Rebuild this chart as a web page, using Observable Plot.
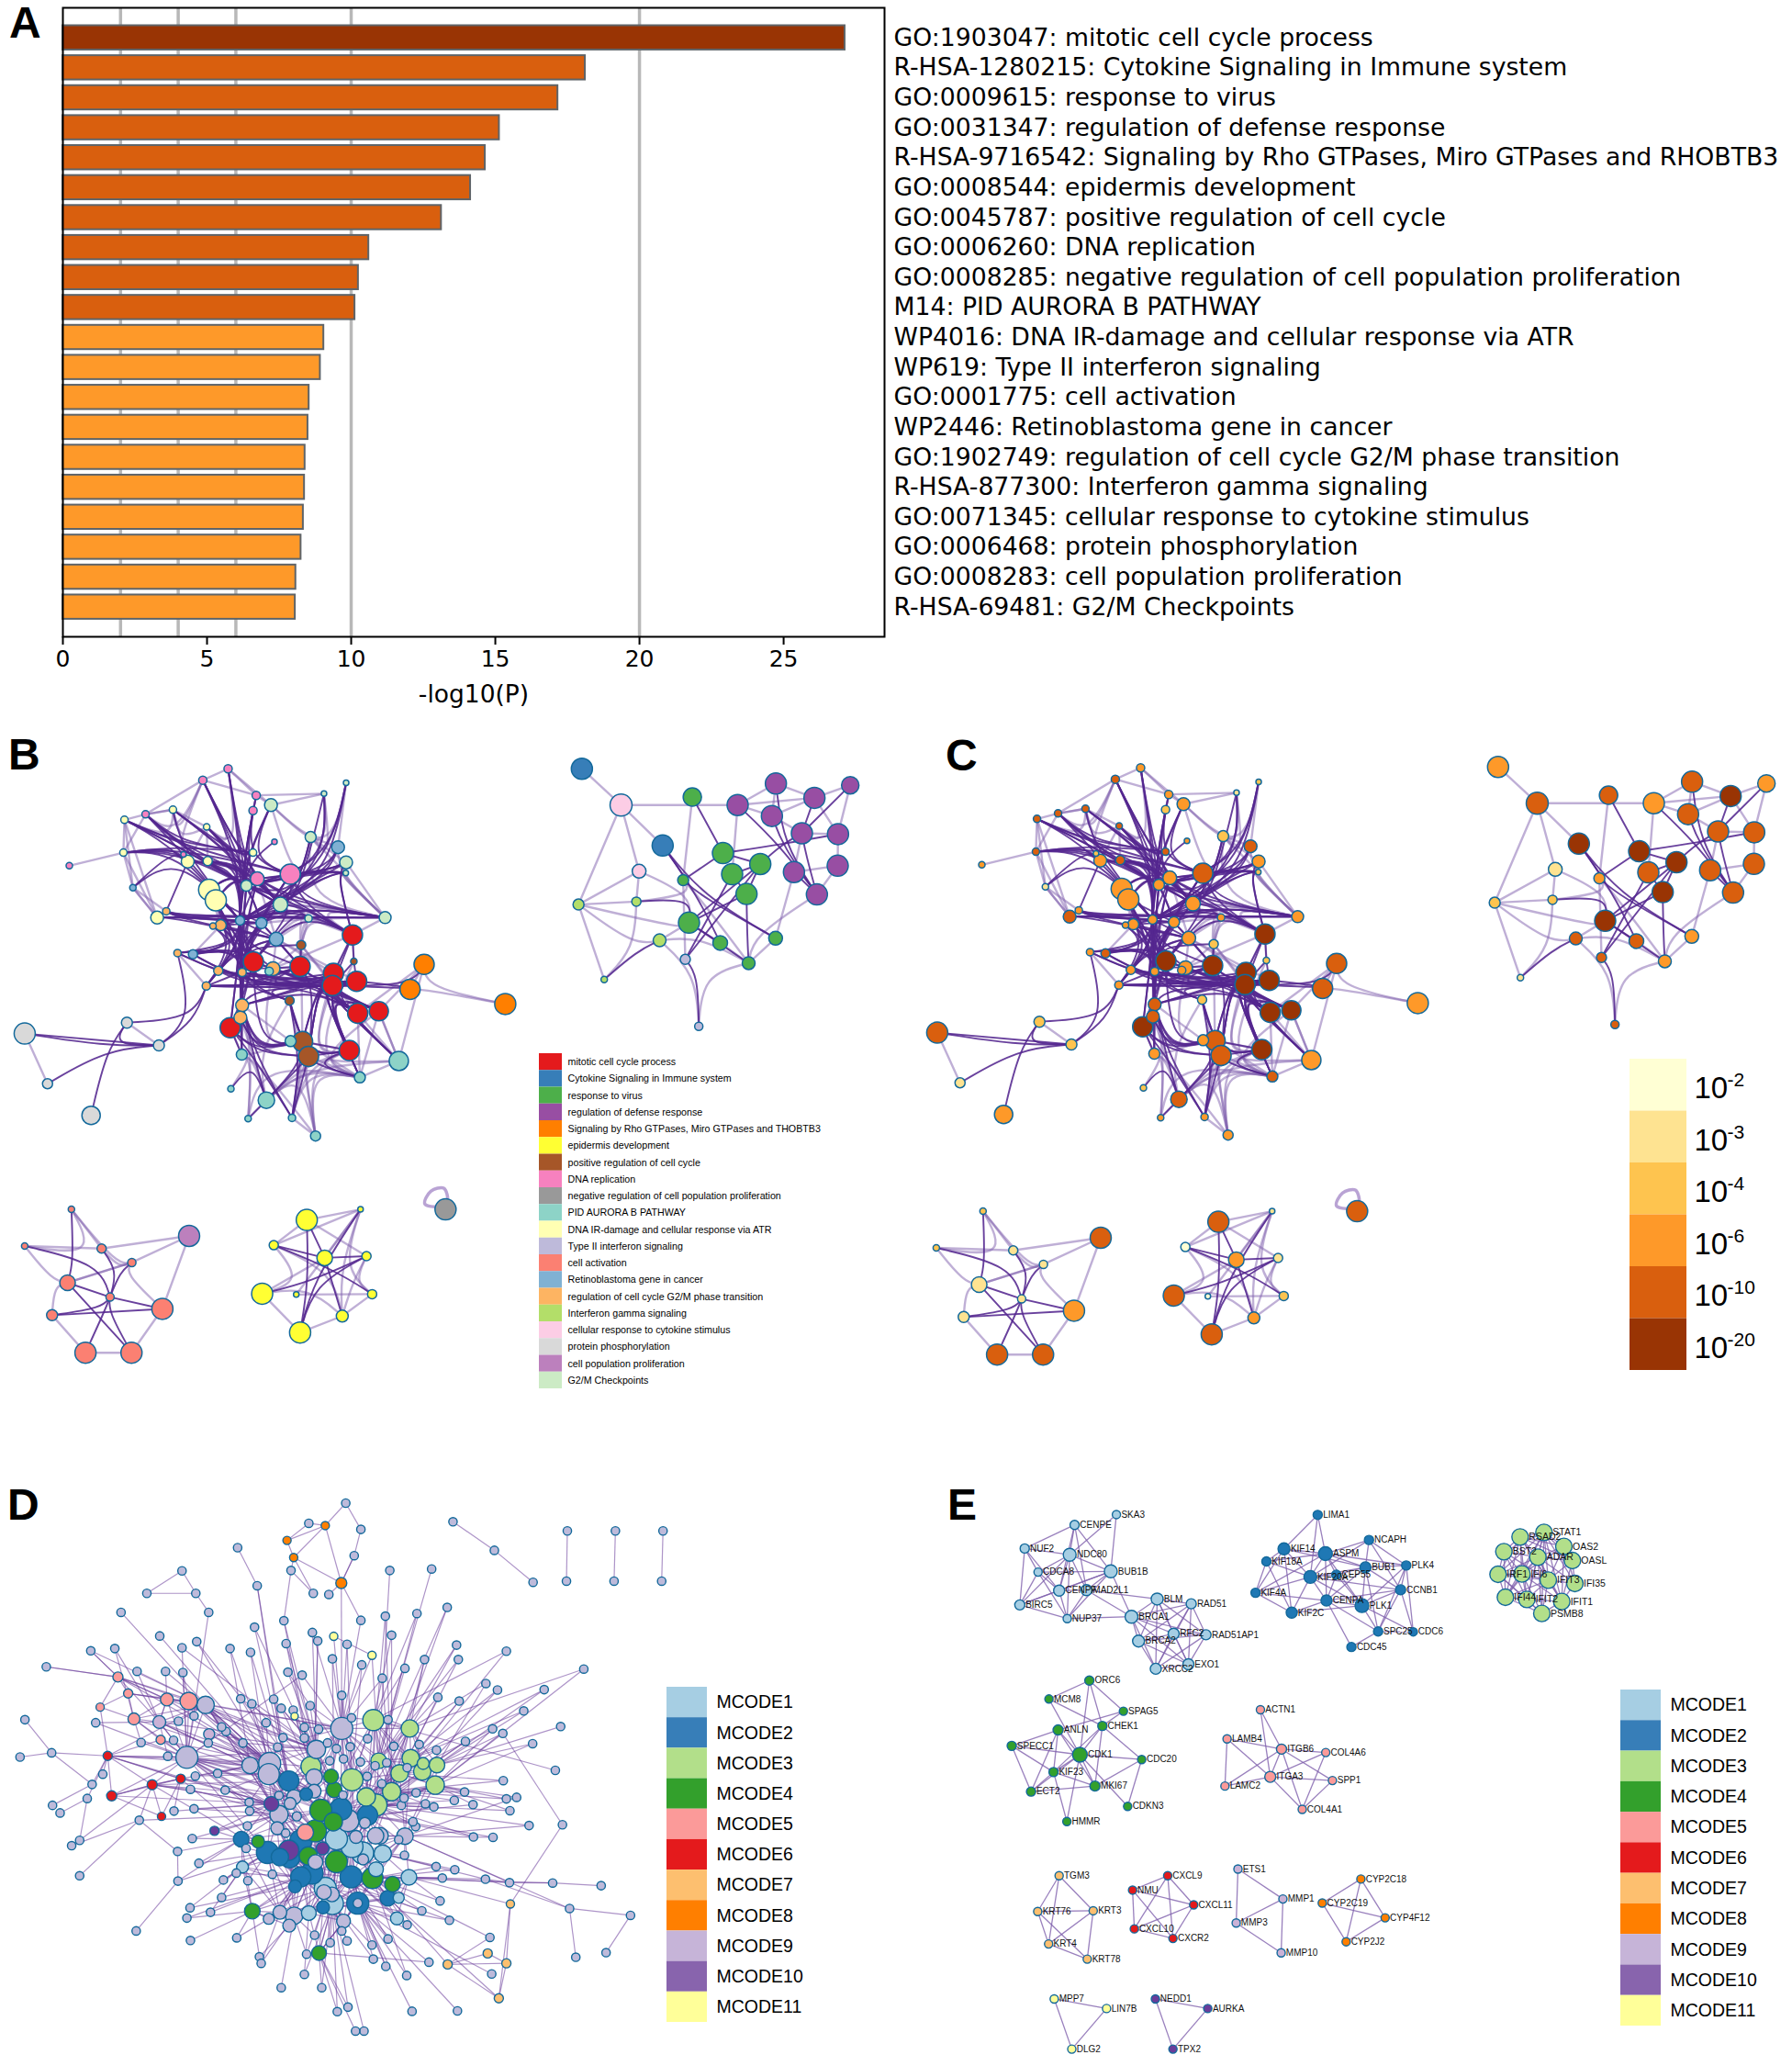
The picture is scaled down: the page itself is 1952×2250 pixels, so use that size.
<!DOCTYPE html>
<html><head><meta charset="utf-8">
<script src="https://cdn.jsdelivr.net/npm/d3@7"></script>
<script src="https://cdn.jsdelivr.net/npm/@observablehq/plot@0.6"></script>
<style>
html,body{margin:0;padding:0;background:#fff}
#page{position:relative;width:1952px;height:2250px;overflow:hidden;background:#fff}
.letter{position:absolute;font:bold 48px "Liberation Sans",sans-serif;line-height:1;color:#000}
</style></head><body><div id="page"></div>
<script>
// ---------- Panel A ----------
const terms = ["GO:1903047: mitotic cell cycle process","R-HSA-1280215: Cytokine Signaling in Immune system","GO:0009615: response to virus","GO:0031347: regulation of defense response","R-HSA-9716542: Signaling by Rho GTPases, Miro GTPases and RHOBTB3","GO:0008544: epidermis development","GO:0045787: positive regulation of cell cycle","GO:0006260: DNA replication","GO:0008285: negative regulation of cell population proliferation","M14: PID AURORA B PATHWAY","WP4016: DNA IR-damage and cellular response via ATR","WP619: Type II interferon signaling","GO:0001775: cell activation","WP2446: Retinoblastoma gene in cancer","GO:1902749: regulation of cell cycle G2/M phase transition","R-HSA-877300: Interferon gamma signaling","GO:0071345: cellular response to cytokine stimulus","GO:0006468: protein phosphorylation","GO:0008283: cell population proliferation","R-HSA-69481: G2/M Checkpoints"];
const logP = [27.13,18.12,17.17,15.14,14.65,14.14,13.13,10.61,10.25,10.13,9.05,8.93,8.54,8.50,8.40,8.38,8.34,8.26,8.08,8.06];
const gridValues = [2,4,6,10,20];
const pLabels = ["-2","-3","-4","-6","-10","-20"];
const pColors = ["#ffffd4","#fee391","#fec44f","#fe9929","#d95f0e","#993404"];

// ---------- Panels B / C: enrichment network ----------
const termShort = ["mitotic cell cycle process","Cytokine Signaling in Immune system","response to virus","regulation of defense response","Signaling by Rho GTPases, Miro GTPases and THOBTB3","epidermis development","positive regulation of cell cycle","DNA replication","negative regulation of cell population proliferation","PID AURORA B PATHWAY","DNA IR-damage and cellular response via ATR","Type II interferon signaling","cell activation","Retinoblastoma gene in cancer","regulation of cell cycle G2/M phase transition","Interferon gamma signaling","cellular response to cytokine stimulus","protein phosphorylation","cell population proliferation","G2/M Checkpoints"];
const termColors = ["#e41a1c","#377eb8","#4daf4a","#984ea3","#ff7f00","#ffff33","#a65628","#f781bf","#999999","#8dd3c7","#ffffb3","#bebada","#fb8072","#80b1d3","#fdb462","#b3de69","#fccde5","#d9d9d9","#bc80bd","#ccebc5"];
// x, y, size, term, p level
const mainNodes = [[648,80,4.5,7,3],[576,107,4.5,7,4],[728,143,4.5,7,3],[719,179,4.5,7,2],[770,166,7,19,3],[921,139,3,19,1],[984,113,3,19,2],[491,177,4,10,4],[413,188,4,7,4],[353,201,4,10,4],[587,218,3.5,10,4],[883,242,6,19,2],[961,266,7,13,4],[780,253,3,7,3],[719,279,4,10,4],[350,279,4,10,4],[521,283,3,7,2],[984,302,7,19,3],[533,300,7,10,3],[590,299,5,10,4],[196,310,3.5,7,3],[825,330,11,7,4],[731,341,7.5,7,3],[700,357,6,19,3],[983,327,3,19,2],[377,362,3.5,13,1],[594,367,11.5,10,3],[613,392,11.5,10,3],[797,402,8,19,3],[472,418,4,14,3],[446,433,7,10,4],[877,435,4,19,3],[1095,433,6.5,19,3],[682,440,5,13,3],[743,446,6,13,3],[605,453,3.5,14,3],[627,451,6,14,3],[1002,474,11,0,5],[785,484,7.5,13,3],[856,498,5,6,2],[504,517,4,14,3],[548,520,5,13,4],[720,538,11,0,5],[1006,537,3.5,6,2],[853,549,11,0,5],[776,554,7.5,14,3],[765,560,4.5,9,3],[688,563,4.5,14,3],[620,559,5,14,3],[948,565,11,0,5],[1014,584,11,0,5],[945,594,11,0,5],[1206,544,11,4,4],[1166,603,11,4,4],[1437,638,11.5,4,3],[586,595,4.5,14,3],[823,630,5,6,2],[688,641,7,14,4],[683,670,7,14,4],[1017,660,11,0,5],[1077,655,10.5,0,5],[654,694,11,0,5],[360,682,6,17,2],[69,708,11.5,17,4],[451,736,6,17,2],[826,726,6,9,3],[860,727,11,6,4],[877,762,11,6,4],[993,748,11,0,5],[1134,773,10.5,9,3],[687,758,6,9,3],[1023,812,6,9,4],[134,827,5.5,17,1],[656,839,3.5,9,2],[757,866,9,9,4],[258,902,10,17,3],[705,910,3.5,9,3],[830,908,4,9,3],[897,951,5.5,9,3]];
const mainHubs = [[683,500],[690,300],[500,260],[850,400],[900,590],[700,600],[860,780],[720,760],[950,320],[480,430],[700,560],[560,680],[300,740],[1190,600]];
const mainStrong = [[9,14,2],[9,33,2],[9,21,2],[8,22,2],[8,33,2],[8,14,2],[15,14,2],[15,21,2],[15,18,2],[7,33,2],[7,14,1],[1,33,1],[1,14,1],[0,33,1],[0,22,1],[2,22,1],[3,33,1],[3,21,1],[4,33,1],[4,21,1],[13,33,1],[5,28,3],[6,23,8],[6,28,8],[5,23,8],[11,23,3],[11,33,3],[12,28,8],[17,23,8],[24,33,8],[24,28,8],[24,21,8],[17,22,8],[25,18,2],[25,33,2],[18,29,-1],[18,33,1],[19,34,1],[19,33,1],[10,33,1],[10,14,1],[30,33,9],[30,34,9],[30,32,9],[29,31,9],[29,32,9],[29,33,9],[33,32,3],[34,32,3],[33,42,0],[33,47,0],[33,45,0],[33,48,0],[33,41,0],[33,40,0],[34,42,0],[35,41,0],[36,42,0],[36,33,-1],[38,42,0],[27,33,1],[26,33,1],[26,42,0],[28,42,3],[28,33,3],[23,42,0],[22,33,-1],[21,33,3],[21,42,0],[41,42,0],[40,47,0],[41,47,0],[48,42,0],[55,42,10],[55,33,0],[47,42,10],[47,44,5],[42,49,5],[42,51,5],[42,50,5],[47,51,5],[47,50,5],[48,51,5],[55,51,5],[57,33,0],[57,42,5],[57,51,5],[58,33,0],[61,33,0],[61,42,5],[44,51,5],[44,50,4],[49,59,4],[51,59,4],[50,59,4],[50,60,4],[49,60,4],[51,60,4],[37,43,-1],[37,51,-1],[37,49,-1],[43,50,-1],[43,51,-1],[52,51,13],[53,51,13],[53,50,13],[37,42,3],[37,33,3],[39,44,-1],[39,42,0],[56,42,5],[56,51,5],[56,47,5],[65,57,7],[66,57,7],[66,42,7],[67,51,4],[67,44,4],[67,49,4],[68,51,4],[68,50,4],[68,56,6],[68,67,-1],[69,59,4],[69,51,4],[71,51,4],[71,59,4],[71,68,6],[71,66,6],[74,67,6],[77,66,-1],[77,67,-1],[73,74,7],[76,74,-1],[63,64,-1],[62,64,12],[62,55,11],[64,55,11],[40,64,11],[64,72,12],[62,75,12],[63,64,12],[77,56,6],[70,57,-1],
[9,23,2],[9,28,2],[8,23,2],[8,28,2],[15,23,2],[15,28,2],[15,33,2],[7,23,1],[7,28,1],[1,28,1],[1,23,1],[0,23,1],[3,23,1],[2,33,1],[4,23,1],[10,23,1],[10,28,1],[19,23,1],[19,28,1],[18,23,1],[18,28,1],[26,28,1],[27,28,1],[26,34,1],[27,34,-1],[29,34,9],[30,38,9],[29,38,9],[36,34,-1],[36,38,-1],[33,38,-1],[34,38,-1],[33,44,0],[34,44,-1],[38,44,-1],[42,44,10],[33,55,0],[33,61,0],[34,57,0],[34,55,0],[26,57,0],[27,57,0],[26,55,0],[27,42,0],[36,47,0],[36,55,0],[35,47,0],[28,47,0],[38,47,0],[22,42,0],[22,47,0],[21,47,0],[23,47,0],[23,57,0],[28,57,0],[21,57,0],[47,49,4],[47,59,4],[47,60,4],[55,49,4],[55,50,4],[57,49,4],[57,50,4],[57,59,4],[44,49,4],[42,59,4],[42,60,4],[45,50,4],[45,51,4],[55,59,4],[48,50,4],[41,51,5],[40,51,5],[41,44,5],[40,42,0],[40,44,5],[37,22,3],[37,23,3],[37,28,3],[37,21,3],[32,22,3],[32,23,3],[32,21,3],[32,33,3],[31,33,3],[31,42,3],[24,37,8],[17,37,8],[12,33,8],[12,23,8],[6,33,8],[5,33,8],[17,33,8],[17,21,8],[24,23,8],[24,22,8],[57,61,-1],[57,58,-1],[58,61,-1],[58,70,-1],[61,70,-1],[66,61,7],[67,61,7],[66,58,7],[67,58,7],[68,66,-1],[59,68,4],[60,68,4],[50,68,4],[51,71,4],[50,69,4],[60,69,4],[51,66,4],[49,66,4],[49,67,4],[56,66,-1],[56,68,6],[74,66,6],[74,57,7],[77,57,7],[77,61,7]];
const mainFaint = [[9,15,-1],[9,25,-1],[15,25,-1],[9,7,2],[8,7,-1],[8,1,2],[1,7,2],[1,10,1],[0,10,1],[5,4,-1],[4,11,3],[11,32,3],[17,32,-1],[24,32,8],[12,32,8],[28,32,3],[31,32,-1],[38,37,3],[37,32,3],[39,37,3],[44,37,3],[38,44,-1],[52,69,-1],[60,69,-1],[59,69,-1],[60,71,-1],[59,71,-1],[69,71,-1],[69,68,6],[69,74,6],[70,76,7],[70,74,7],[70,73,7],[74,76,-1],[74,78,6],[77,78,-1],[71,78,6],[71,77,6],[68,78,6],[66,78,6],[67,78,6],[57,70,-1],[61,70,-1],[57,76,7],[58,74,7],[65,70,7],[45,66,7],[56,67,6],[39,66,6],[49,68,6],[51,68,6],[43,71,6],[60,71,6],[52,54,13],[53,54,13],[53,52,-1],[63,72,-1],[62,64,-1],[55,40,-1],[32,24,8],[32,17,8],[32,28,3],[31,44,3],[31,37,3],[39,31,-1],[38,31,-1],[34,31,-1],[23,31,3],[11,17,-1],[5,11,8],[6,12,-1],[4,6,8],[4,5,8],[2,5,-1],[0,2,-1],[1,2,-1],[1,0,-1],[3,2,-1],[7,10,2],[16,1,2],[20,15,-1],[25,29,-1],[25,30,-1],[45,37,-1],[49,38,-1],[50,38,-1],[51,39,-1],[59,39,-1],
[0,4,-1],[4,2,-1],[1,8,-1],[7,8,-1],[9,8,-1],[15,8,-1],[30,9,-1],[30,15,-1],[30,25,-1],[10,7,-1],[10,19,-1],[18,19,-1],[18,10,-1],[18,7,-1],[11,12,-1],[11,24,-1],[17,24,-1],[32,31,-1],[37,31,-1],[37,32,-1],[49,37,-1],[57,65,-1],[66,68,-1],[66,71,-1],[67,71,-1],[68,74,6],[71,74,6],[68,77,6],[71,76,7],[66,77,6],[67,77,6],[56,74,7],[70,78,7],[28,37,3],[21,28,3],[22,38,-1],[26,36,-1],[27,36,-1],[36,41,-1],[33,36,-1],[42,45,-1],[45,44,-1],[39,45,-1],[38,45,-1],[43,37,-1],[60,52,-1],[69,60,-1],[59,52,-1]];

const lowNodes = [[202,1125,3.5,12,2],[69,1212,3.5,12,2],[288,1218,5,12,1],[374,1251,4.5,12,1],[537,1188,11.5,18,4],[191,1299,8.5,12,1],[312,1333,4.5,12,1],[147,1376,6,12,1],[461,1361,11.5,12,3],[242,1465,11.5,12,4],[373,1465,11.5,12,4],[872,1150,11.5,5,4],[1025,1125,3,5,1],[778,1210,5,5,0],[923,1240,8.5,5,3],[1042,1236,5,5,1],[745,1325,11.5,5,4],[842,1327,3,5,0],[1058,1326,5,5,2],[973,1378,6.5,5,3],[853,1417,11.5,5,4],[1267,1125,11.5,8,4]];
const lowHubs = [[300,1250],[150,1300],[210,1260],[300,1360],[960,1270],[880,1300],[1000,1300],[340,1270]];
const lowStrong = [[0,5,2],[1,6,0],[2,6,7],[3,6,7],[5,6,-1],[6,7,3],[6,8,-1],[6,9,3],[6,10,3],[7,8,-1],[5,10,-1],[13,18,4],[13,14,-1],[11,20,5],[14,19,-1],[15,16,5],[15,20,5],[12,20,5],[14,15,-1],[11,14,-1]];
const lowFaint = [[0,1,0],[0,2,-1],[0,3,7],[1,2,-1],[1,5,1],[2,3,7],[2,4,-1],[3,4,-1],[3,5,-1],[5,7,1],[4,8,-1],[3,8,7],[7,9,-1],[9,10,-1],[8,10,-1],[5,3,-1],[11,12,-1],[11,13,-1],[12,13,-1],[12,14,-1],[12,17,-1],[12,19,4],[12,18,4],[13,16,5],[16,19,5],[16,20,-1],[16,14,-1],[17,18,-1],[18,19,-1],[19,20,-1],[13,19,4],[15,18,6],[15,19,6],[11,15,-1]];
// self-loop of the single grey term, in picture units
const loopPath = [[1248,1118],[1208,1112],[1225,1082],[1262,1075],[1272,1105]];

const rightNodes = [[220,80,11.5,1,3],[348,166,12,16,4],[581,147,10,2,4],[729,166,11.5,3,3],[854,115,11.5,3,4],[841,192,11.5,3,4],[980,149,11.5,3,5],[1097,119,9.5,3,3],[484,262,11.5,1,5],[681,280,11.5,2,5],[803,306,11.5,2,5],[939,233,11.5,3,4],[1057,235,11.5,3,4],[407,323,7.5,16,1],[551,344,6,2,3],[711,330,11.5,2,4],[913,325,11.5,3,4],[1056,310,11.5,3,4],[758,377,11.5,2,5],[988,378,11.5,3,4],[209,402,6,15,2],[398,395,5,15,2],[570,445,11.5,2,5],[474,487,7,15,4],[672,493,8,2,4],[853,482,7.5,2,3],[765,541,7,2,3],[558,532,5.5,11,4],[293,580,3.5,15,1],[602,691,4.5,11,4]];
const rightHubs = [[870,260],[600,380],[400,510],[600,470],[602,560],[760,480],[950,280]];
const rightStrong = [[2,9,-1],[3,19,0],[5,19,0],[4,19,0],[6,11,-1],[7,11,-1],[10,11,0],[9,10,-1],[9,12,0],[10,15,-1],[15,18,-1],[10,18,-1],[8,24,1],[8,25,1],[8,14,1],[14,9,-1],[21,22,1],[22,10,-1],[22,18,-1],[27,15,-1],[27,10,-1],[27,29,4],[26,18,5],[25,14,1],[22,24,-1],[22,26,-1],[23,28,2],[11,19,6],[16,19,-1]];
const rightFaint = [[0,1,-1],[1,8,-1],[1,3,-1],[1,13,-1],[1,20,-1],[2,14,-1],[3,5,-1],[3,4,-1],[3,6,-1],[3,15,-1],[4,5,-1],[4,6,-1],[5,6,-1],[5,11,-1],[6,7,-1],[7,12,-1],[6,12,-1],[11,12,-1],[11,16,-1],[12,17,-1],[16,17,-1],[17,19,-1],[13,21,-1],[13,22,1],[13,20,-1],[20,21,-1],[20,28,-1],[20,22,3],[21,28,2],[22,23,-1],[24,26,-1],[27,14,-1],[26,25,-1],[26,14,1],[26,29,4],[23,29,4],[25,16,-1],[26,19,5],[14,21,1],[23,26,3],[20,23,2]];

// ---------- Panel D: PPI network ----------
const mcodeNames = ["MCODE1","MCODE2","MCODE3","MCODE4","MCODE5","MCODE6","MCODE7","MCODE8","MCODE9","MCODE10","MCODE11"];
const mcodeColors = ["#a6cee3","#1f78b4","#b2df8a","#33a02c","#fb9a99","#e31a1c","#fdbf6f","#ff7f00","#cab2d6","#6a3d9a","#ffff99"];
const mcodeSwatches = ["#a6cee3","#377eb8","#b2df8a","#33a02c","#fb9a99","#e41a1c","#fdbf6f","#ff7f00","#c6b4d8","#8864ad","#ffff99"];
const otherColor = "#bebada";
// x, y, size, MCODE number (0 = not in a module)
const dCoreNodes = [[767,680,12,0],[838,658,11.5,3],[920,680,9.5,3],[710,735,10,0],[605,772,12,0],[603,800,11.5,0],[561,777,9,0],[698,780,11,3],[705,808,9,0],[648,818,11,2],[743,806,8,4],[790,815,12,3],[850,765,8.5,3],[922,758,9.5,3],[950,772,6.5,3],[981,776,8.5,3],[948,793,9.5,3],[897,798,9.5,3],[977,829,10,3],[879,846,10,3],[822,860,10,3],[844,881,12,3],[750,841,8.5,4],[705,845,7.5,0],[687,853,7,2],[660,860,8,0],[609,878,8,10],[651,877,6.5,0],[626,906,10,0],[720,895,12,4],[765,892,12,2],[748,925,10,4],[825,908,11,2],[781,922,12,0],[819,928,6,0],[666,911,5,0],[622,942,7,0],[708,949,12,4],[685,953,9,5],[755,970,12,1],[799,965,7,0],[843,962,9,0],[853,962,9,0],[909,963,9,0],[790,990,12,1],[814,1007,12,1],[859,1009,9.5,1],[815,1024,6,0],[541,971,8.5,2],[579,977,7,4],[600,1006,12,2],[648,1000,11,10],[628,1018,9.5,2],[650,1020,11,2],[675,975,12,2],[692,1015,10,4],[724,995,7,10],[755,1030,12,4],[708,1031,8,0],[544,1044,6.5,1],[700,1060,12,2],[675,1070,11,2],[788,1070,12,2],[836,1073,11.5,4],[844,1050,8,1],[881,1089,8.5,4],[918,1071,8.5,1],[662,1095,7,2],[730,1100,12,1],[727,1110,8,0],[745,1116,8,0],[746,1140,12,1],[803,1139,12,2],[871,1126,8.5,2],[895,1125,6,1],[566,1160,8.5,4],[628,1163,7.5,0],[660,1172,9.5,0],[693,1165,8,1],[725,1150,7,2],[771,1186,7.5,0],[891,1179,7,1],[649,1198,7,0],[603,1180,6,0],[716,1270,8,4],[803,1139,5,0],[423,608,9.5,5],[374,604,7,5],[264,545,5.5,5],[287,588,5,5],[224,624,4.5,5],[300,655,6.5,5],[360,710,5,5],[461,618,9.5,0],[357,663,7,9],[419,756,12,0],[469,695,6,9],[241,752,5,6],[405,812,5,6],[341,828,5.5,6],[250,857,5.5,6],[362,911,4.5,6],[481,949,5,10],[644,186,4.5,8],[730,147,4.5,8],[659,231,4.5,8],[766,298,6,8],[749,438,4.5,11],[835,488,4.5,11],[661,648,4,11],[1146,1141,4.5,7],[1095,1271,5,7],[1137,1297,5,7],[1005,1300,5,7],[1120,1389,5,7]];
const dCoreEdges = [[0,[3,1,12,11,8,10,2]],[1,[12,13,11,2]],[2,[13,15,17,12,14]],[3,[4,7,8,23,10,9,27]],[4,[5,6,9,7,28,25]],[5,[6,9,26,28,8]],[7,[8,10,22,24,29,9]],[8,[9,10,23,22,24,25,29]],[9,[24,25,26,27,28,23,29]],[10,[11,22,29,30,23]],[11,[12,17,19,20,21,22,30,32,33]],[12,[13,14,17,19]],[13,[14,15,16,17,18]],[14,[15,16,17,18]],[15,[16,18,17]],[16,[17,18,19]],[17,[19,18,20,21]],[18,[19,21]],[19,[20,21,32]],[20,[21,30,32,33]],[21,[32,33,30,43]],[22,[29,30,31,23]],[23,[24,29,25]],[24,[25,27,29]],[25,[26,27,28,29]],[26,[27,28,36]],[27,[28,35,36,37]],[28,[35,36,37,38,29]],[29,[30,31,33,35,37,38,39,55]],[30,[31,32,33,34,39,40,44]],[31,[33,34,37,39,40,44,57]],[32,[33,34,41,42,44,45]],[33,[34,39,40,41,44,45,57]],[34,[40,41,44]],[36,[37,54,51,52]],[37,[38,39,54,55,57,58,60,53,56]],[38,[54,55,39]],[39,[40,44,45,55,56,57,58,68,62]],[40,[41,42,44,45,47]],[41,[42,43,45,46,47]],[42,[43,46]],[43,[46,64,66]],[44,[45,46,47,57,62,63,64]],[45,[46,47,63,64,62]],[46,[47,64,66,63]],[48,[49,50,52,59]],[49,[50,51,52,54]],[50,[51,52,53,59,61,67]],[51,[52,53,54,55,56]],[52,[53,54,59,61,67]],[53,[54,55,60,61,67,58]],[54,[55,56,58,60]],[55,[56,57,58,60,61,68]],[57,[58,60,62,63,68,71]],[58,[60,61,68]],[59,[67,75,76,61]],[60,[61,67,68,69,70,71,62,77,78]],[61,[67,68,69,76,77,83,75]],[62,[63,64,68,70,71,72,73,65]],[63,[64,65,66,72,73,74,81]],[65,[66,73,74]],[66,[73,74,81]],[67,[75,76,77,83]],[68,[69,70,71,72,78,79]],[69,[70,71,78,79]],[70,[71,72,79,80]],[71,[72,78,79,80,73]],[72,[73,80,81,74]],[75,[76,83,82]],[76,[77,78,82,83]],[77,[78,79,82,83]],[78,[79,80,84]],[79,[80,84]],[80,[84]],[84,[72,71]],[93,[86,95,4,97,6,0]],[95,[97,4,6,25,26]],[86,[87,93]],[87,[88,89,91,94]],[88,[89,90,94]],[89,[90,91]],[90,[91,97]],[91,[92,94]],[97,[99,100,98,92]],[99,[100,98,26,25]],[100,[101,99]],[101,[99,98]],[98,[4,26,100]],[102,[48,26,28]],[107,[108,0]],[108,[0,12]],[109,[0,3]],[110,[66]],[113,[63]],[114,[73]],[111,[112]],[103,[104,105]],[104,[105,106]],[105,[106]],[106,[0]],
[95,[9,28,36,37,50,54,29,3,8,23]],[93,[3,8,9,25,26,27,28,29,7]],[86,[95,4,3,9,25,0]],[87,[4,93,95,94,3]],[94,[4,5,93,95,6]],[96,[3,4,9]],[88,[93,86,87,4]],[89,[86,93]],[91,[93,95,4]],[92,[95,4,5]],[97,[95,4,6,26]],[98,[97,99,50,25]],[99,[95,26,50,9]],[100,[95,26]],[4,[23,29,37,54,30]],[5,[29,37,54,23]],[6,[26,28,37]],[0,[29,30,33,20,21,19,17,7,23]],[1,[17,19,20,21,22,30]],[2,[11,19,20,21,32]],[3,[29,30,33,31,37]],[12,[30,33]],[13,[19,20,21,33,43]],[15,[19,21,32,43]],[18,[32,43,33,30]],[17,[30,32,33,43]],[26,[37,54,50,53,60]],[28,[50,53,54,60,61,67]],[29,[60,53,61,68,62,44]],[30,[62,57,60,68,71]],[33,[62,60,68,71,72]],[43,[63,62,72,45,44]],[48,[60,53,37,29,9,28,75,76]],[50,[60,62,68,71,76,77]],[51,[60,68,71,77]],[54,[68,62,71,78]],[60,[72,73,80,82,83,76]],[62,[74,81,80,78,79]],[68,[77,80,73,75,76]],[71,[77,76,81,84]],[72,[77,78,84]],[61,[78,79,71]],[63,[71,80,79,68]],[10,[37,39,30]],[22,[37,39,44]],[11,[39,44,40]],[20,[39,44,45]],[19,[41,44,45]],[31,[53,60,62]],[37,[62,68,71,72]],[39,[60,71,72,78]],[44,[68,72,71,73]]];
// x, y, then the core nodes each outer protein is joined to
const dOuterNodes = [[776,88],[810,157],[693,141,104,103],[795,226,106],[653,265,105],[703,325,105],[738,328,106],[875,265,21],[969,261,20],[1004,362,21,12],[936,378,12,1],[865,385,32,19],[810,396,106,0],[879,435,19,1],[533,205],[577,305,27,9],[637,397,3,29],[571,414,30,9],[701,428,0,3],[713,450,23,8],[642,457,8,3],[779,459,0,11],[1025,461,12,2],[953,499,2,19],[1029,499,17,12],[1137,477,19,1],[746,497,22,0],[812,513,0,11],[909,522,1,12],[858,548,0,19],[562,480,5,9],[516,470,4,6],[441,452,4,23],[408,468,3,95],[358,437,4],[468,375,95],[408,266],[329,325],[439,325],[271,375,93],[257,470,94,91],[203,476,93,88],[103,518,88],[307,530,93,94],[371,530,93,87],[410,533,86,95],[646,532,3,21],[678,540,0,95],[767,593,0,11],[614,603,3,9],[565,615,4,7],[540,602,3,9],[631,627,3,8],[658,632,7,8],[696,620,3,0],[983,598,2,19],[1031,608,13,17],[1091,562,2,15],[1117,579,13,16],[1222,578,15,13],[1311,524,18,2],[1176,634,15,13],[1259,675,15],[1196,720,18,15],[1247,790,1],[1129,693,15,18],[1106,681,18,14],[1045,714,16,19],[980,737,13,17],[1130,817,19,17],[1160,861,18,43],[1137,865,18,19],[1145,896,17,21],[1188,935,21,43],[1263,933],[1107,966,43,32],[1063,965,21,32],[1020,869,19,21],[1062,880,32,18],[1043,847,18,19],[955,878,21,19],[974,886,21,33],[927,925,21,32],[933,938,21,43],[895,972,43,32],[908,1013,46,43],[979,1043,46,63],[1021,1051,63,46],[993,1073,63,62],[1090,1076,66,44],[1144,1085,66,43],[1241,1086,63],[1350,1093],[1279,1153,43],[1416,1171],[1293,1281],[1361,1269],[988,1133,66,63],[947,1159,73,63],[1009,1184,73,72],[914,1196,73,62],[1100,1229,63],[1104,1325,72],[963,1294,72,84],[913,1329,72,63],[866,1305,72,62],[838,1286,72,71],[871,1233,72,62],[835,1249,72,71],[779,1238,71,68],[767,1212,71,80],[741,1243,71,68],[706,1223,77,79],[688,1273,79,77],[683,1326,78,71],[631,1361,77],[722,1361,84,71],[781,1412,71,84],[757,1424,71,84],[798,1475,84],[817,1475,71],[925,1423,72],[1027,1422,72],[586,1297,77,76],[582,1280,75,82],[531,1230,75,76],[427,1237,75],[305,1212],[419,1178,75,61],[472,1163,61,59],[426,1151,59,67],[497,1124,59,61],[399,1081,48,50],[501,1078,59,50],[556,1080,59,50],[530,1060,50,61],[611,1063,50,61],[446,1034,50,48],[398,1003,48],[431,969,48,28],[178,1067],[160,988],[178,974,99],[312,921,99,28],[390,897,98,26],[435,891,26,28],[559,874,26,5],[560,897,26,28],[555,936,28,48],[552,995,50,48],[641,955,37,28],[488,798,5,6],[505,842,26,5],[427,840,99,28],[438,805,6,5],[230,800,97],[206,827,97],[195,864,97],[117,882],[134,902],[115,744,97],[44,755],[55,657],[214,665,94,95],[316,717,95,91],[376,753,95,94],[389,711,94,95],[400,661,94,93],[435,647,86,95],[467,718,95,4],[497,676,4,93],[507,688,4,94],[545,718,4,3],[597,665,4,3],[623,729,4,3],[635,704,3,4],[683,677,0,3],[683,705,3,0],[715,682,0,3],[735,718,3,0],[755,733,0,11],[786,728,0,11],[771,760,0,11],[740,765,0,7],[809,768,11,12],[842,778,12,11],[868,770,12,17],[914,783,13,17],[825,707,0,1],[884,727,1,13],[941,722,2,13],[871,657,1,2],[789,652,0,1],[824,806,11,20],[857,825,19,20],[770,855,30,22],[907,863,19,21],[901,882,19,21],[934,849,18,19],[626,856,9,25],[1017,137],[1110,212],[1197,296],[1274,161],[1272,293],[1382,161],[1379,293],[1489,161],[1486,293]];
const dOuterLinks = [[776,88,810,157],[776,88,730,147],[810,157,795,226],[795,226,766,298],[653,265,703,325],[653,265,637,397],[408,266,329,325],[329,325,439,325],[408,266,439,325],[439,325,468,375],[533,205,577,305],[1017,137,1110,212],[1110,212,1197,296],[1274,161,1272,293],[1382,161,1379,293],[1489,161,1486,293],[1279,1153,1416,1171],[1279,1153,1293,1281],[1416,1171,1361,1269],[1241,1086,1350,1093],[1129,693,1263,933],[1263,933,1146,1141],[1146,1141,1120,1389],[1146,1141,1137,1297],[1095,1271,1005,1300],[1137,1297,1005,1300],[1137,1297,1120,1389],[1005,1300,1100,1229],[1005,1300,1120,1389],[55,657,115,744],[44,755,115,744],[115,744,206,827],[117,882,206,827],[134,902,195,864],[178,974,195,864],[160,988,178,974],[160,988,312,921],[178,1067,312,921],[305,1212,399,1081],[398,1003,312,921],[398,1003,399,1081],[103,518,264,545],[203,476,264,545],[1091,1076,1144,1085],[1241,1086,1144,1085],[1279,1153,1090,1076]];

// ---------- Panel E: MCODE modules ----------
// gene, x, y, size, MCODE number
const eNodes = [["SKA3",485,72,4.5,1],["CENPE",366,100,5,1],["NUF2",224,164,5,1],["NDC80",352,181,7,1],["CDCA8",262,228,4.5,1],["BUB1B",469,226,7,1],["CENPF",322,278,6,1],["MAD2L1",400,277,6,1],["BIRC5",210,317,5.5,1],["NUP37",345,354,4.5,1],["BLM",601,301,6.5,1],["RAD51",698,314,5.5,1],["BRCA1",528,349,7,1],["RFC2",648,395,6,1],["RAD51AP1",740,398,5.5,1],["BRCA2",548,415,6.5,1],["EXO1",690,478,6,1],["XRCC2",597,490,6,1],
["LIMA1",1058,73,5,2],["NCAPH",1204,141,5,2],["KIF14",962,165,6.5,2],["ASPM",1080,178,7.5,2],["KIF18A",912,199,5,2],["BUB1",1194,215,6,2],["PLK4",1310,210,5,2],["KIF20A",1037,241,7,2],["CEP55",1111,235,5,2],["KIF4A",881,284,5,2],["CCNB1",1294,276,5.5,2],["CENPA",1083,305,6,2],["PLK1",1184,319,7.5,2],["KIF2C",984,338,6,2],["SPC25",1230,389,5,2],["CDC6",1330,390,4.5,2],["CDC45",1154,431,5,2],
["ORC6",408,522,5,4],["MCM8",293,572,4.5,4],["SPAG5",505,605,4.5,4],["CHEK1",445,645,5,4],["ANLN",319,656,5.5,4],["SPECC1",187,699,5,4],["CDK1",381,723,8,4],["CDC20",557,736,4.5,4],["KIF23",306,770,5,4],["MKI67",424,808,5.5,4],["ECT2",242,823,5,4],["CDKN3",517,863,4.5,4],["HMMR",344,904,4.5,4],
["ACTN1",895,601,4.5,5],["LAMB4",800,680,4.5,5],["ITGB6",955,708,5.5,5],["COL4A6",1081,717,4.5,5],["ITGA3",923,783,6,5],["SPP1",1100,793,4.5,5],["LAMC2",794,808,4.5,5],["COL4A1",1014,871,4.5,5],
["TGM3",322,1051,4.5,7],["KRT76",261,1148,4.5,7],["KRT3",419,1146,4.5,7],["KRT4",292,1236,4.5,7],["KRT78",402,1277,4.5,7],
["CXCL9",631,1051,4.5,6],["NMU",531,1090,4.5,6],["CXCL11",705,1130,4.5,6],["CXCL10",536,1195,4.5,6],["CXCR2",646,1221,4.5,6],
["ETS1",831,1033,4.5,9],["MMP1",959,1114,4.5,9],["MMP3",826,1179,4.5,9],["MMP10",954,1260,4.5,9],
["CYP2C18",1181,1060,4.5,8],["CYP2C19",1071,1125,4.5,8],["CYP4F12",1250,1165,4.5,8],["CYP2J2",1139,1230,4.5,8],
["MPP7",308,1385,4.5,11],["LIN7B",457,1411,4.5,11],["DLG2",358,1521,4.5,11],
["NEDD1",596,1385,4.5,10],["AURKA",745,1411,4.5,10],["TPX2",646,1521,4.5,10]];
const eEdges = "SKA3-NDC80 SKA3-BUB1B CENPE-NUF2 CENPE-NDC80 CENPE-BUB1B CENPE-CENPF CENPE-MAD2L1 NUF2-NDC80 NUF2-BIRC5 NUF2-CDCA8 NUF2-CENPF NDC80-CDCA8 NDC80-BUB1B NDC80-CENPF NDC80-MAD2L1 NDC80-BIRC5 NDC80-NUP37 CDCA8-BUB1B CDCA8-CENPF CDCA8-BIRC5 CDCA8-NUP37 BUB1B-CENPF BUB1B-MAD2L1 BUB1B-BIRC5 BUB1B-BRCA1 BUB1B-NUP37 CENPF-MAD2L1 CENPF-BIRC5 CENPF-NUP37 MAD2L1-NUP37 MAD2L1-BRCA1 BIRC5-NUP37 NUP37-BRCA1 MAD2L1-BLM BLM-RAD51 BLM-BRCA1 BLM-RFC2 BLM-BRCA2 BLM-RAD51AP1 BLM-EXO1 BLM-XRCC2 RAD51-BRCA1 RAD51-RFC2 RAD51-RAD51AP1 RAD51-BRCA2 RAD51-XRCC2 RAD51-EXO1 BRCA1-RFC2 BRCA1-BRCA2 BRCA1-RAD51AP1 BRCA1-XRCC2 BRCA1-EXO1 RFC2-RAD51AP1 RFC2-BRCA2 RFC2-EXO1 RFC2-XRCC2 RAD51AP1-EXO1 RAD51AP1-BRCA2 RAD51AP1-XRCC2 BRCA2-XRCC2 BRCA2-EXO1 EXO1-XRCC2 LIMA1-KIF14 LIMA1-ASPM LIMA1-KIF20A KIF14-ASPM KIF14-KIF18A KIF14-KIF20A KIF14-BUB1 KIF14-KIF2C KIF14-KIF4A ASPM-NCAPH ASPM-BUB1 ASPM-PLK4 ASPM-KIF20A ASPM-CEP55 ASPM-KIF4A ASPM-CENPA ASPM-PLK1 KIF18A-KIF20A KIF18A-KIF4A KIF18A-KIF2C KIF18A-ASPM NCAPH-BUB1 NCAPH-PLK4 NCAPH-CCNB1 NCAPH-KIF20A BUB1-PLK4 BUB1-KIF20A BUB1-CEP55 BUB1-CCNB1 BUB1-PLK1 BUB1-CENPA BUB1-SPC25 PLK4-CCNB1 PLK4-CDC6 PLK4-PLK1 PLK4-SPC25 KIF20A-CEP55 KIF20A-KIF4A KIF20A-CENPA KIF20A-PLK1 KIF20A-KIF2C KIF20A-CCNB1 CEP55-PLK1 CEP55-CENPA KIF4A-KIF2C KIF4A-CENPA CCNB1-PLK1 CCNB1-CENPA CCNB1-CDC6 CCNB1-SPC25 CENPA-PLK1 CENPA-KIF2C CENPA-CDC45 CENPA-SPC25 PLK1-KIF2C PLK1-SPC25 PLK1-CDC6 SPC25-CDC45 SPC25-CDC6 ORC6-MCM8 ORC6-SPAG5 ORC6-CHEK1 ORC6-CDK1 MCM8-CHEK1 MCM8-CDK1 SPAG5-ANLN SPAG5-CHEK1 CHEK1-CDK1 CHEK1-CDC20 CHEK1-KIF23 CHEK1-MKI67 ANLN-SPECC1 ANLN-CDK1 ANLN-KIF23 ANLN-MKI67 ANLN-ECT2 SPECC1-CDK1 SPECC1-ECT2 SPECC1-KIF23 CDK1-CDC20 CDK1-KIF23 CDK1-MKI67 CDK1-ECT2 CDK1-HMMR CDK1-CDKN3 CDC20-MKI67 CDC20-CDKN3 KIF23-MKI67 KIF23-ECT2 KIF23-HMMR MKI67-ECT2 ACTN1-ITGB6 ACTN1-ITGA3 LAMB4-ITGB6 LAMB4-ITGA3 LAMB4-LAMC2 ITGB6-COL4A6 ITGB6-ITGA3 ITGB6-SPP1 ITGB6-LAMC2 ITGB6-COL4A1 COL4A6-ITGA3 COL4A6-COL4A1 ITGA3-SPP1 ITGA3-LAMC2 ITGA3-COL4A1 SPP1-COL4A1 TGM3-KRT76 TGM3-KRT3 TGM3-KRT4 KRT76-KRT3 KRT76-KRT4 KRT76-KRT78 KRT3-KRT4 KRT3-KRT78 KRT4-KRT78 CXCL9-NMU CXCL9-CXCL11 CXCL9-CXCL10 CXCL9-CXCR2 NMU-CXCL11 NMU-CXCL10 NMU-CXCR2 CXCL11-CXCL10 CXCL11-CXCR2 CXCL10-CXCR2 ETS1-MMP1 ETS1-MMP3 MMP1-MMP3 MMP1-MMP10 MMP3-MMP10 CYP2C18-CYP2C19 CYP2C18-CYP4F12 CYP2C18-CYP2J2 CYP2C19-CYP4F12 CYP2C19-CYP2J2 CYP4F12-CYP2J2 MPP7-LIN7B MPP7-DLG2 LIN7B-DLG2 NEDD1-AURKA NEDD1-TPX2 AURKA-TPX2".split(" ");
const e3Nodes = [["STAT1",244,175],["RSAD2",166,190],["OAS2",309,221],["BST2",113,238],["OASL",337,267],["IRF1",94,312],["IFI6",172,311],["IFI44",118,387],["IFIT2",188,394],["IFI35",345,342],["ADAR",224,256],["IFIT3",258,331],["IFIT1",302,401],["PSMB8",237,440]];
const e3Edges = "STAT1-RSAD2 STAT1-OAS2 STAT1-BST2 STAT1-ADAR STAT1-OASL STAT1-IRF1 STAT1-IFI6 STAT1-IFIT3 STAT1-IFI35 STAT1-IFIT1 STAT1-IFIT2 STAT1-IFI44 STAT1-PSMB8 RSAD2-OAS2 RSAD2-BST2 RSAD2-ADAR RSAD2-IRF1 RSAD2-IFI6 RSAD2-IFIT3 RSAD2-OASL RSAD2-IFIT1 RSAD2-IFIT2 RSAD2-IFI44 OAS2-ADAR OAS2-OASL OAS2-IFI6 OAS2-IFIT3 OAS2-IFI35 OAS2-IFIT1 BST2-ADAR BST2-IRF1 BST2-IFI6 BST2-IFIT3 BST2-IFI44 BST2-IFIT2 ADAR-OASL ADAR-IRF1 ADAR-IFI6 ADAR-IFIT3 ADAR-IFI35 ADAR-IFIT1 ADAR-IFIT2 ADAR-IFI44 ADAR-PSMB8 OASL-IFIT3 OASL-IFI35 OASL-IFIT1 IRF1-IFI6 IRF1-IFIT3 IRF1-IFI44 IRF1-IFIT2 IRF1-PSMB8 IFI6-IFIT3 IFI6-IFI44 IFI6-IFIT2 IFI6-IFIT1 IFI6-PSMB8 IFIT3-IFI35 IFIT3-IFIT1 IFIT3-IFIT2 IFIT3-PSMB8 IFIT3-IFI44 IFI35-IFIT1 IFIT1-IFIT2 IFIT1-PSMB8 IFIT2-IFI44 IFIT2-PSMB8 IFI44-PSMB8".split(" ");

const page = document.getElementById("page");
function place(svg, left, top) {
  svg.style.position = "absolute";
  svg.style.left = left + "px";
  svg.style.top = top + "px";
  svg.style.overflow = "visible";
  svg.style.background = "none";
  svg.style.maxWidth = "none";
  page.appendChild(svg);
}

// ---- A ----
const barRows = terms.map((t, i) => ({term: t, v: logP[i]}));
place(Plot.plot({
  width: 1952, height: 790, marginLeft: 68, marginRight: 989, marginTop: 8, marginBottom: 97,
  style: {fontFamily: "DejaVu Sans", color: "#000"},
  x: {domain: [0, 28.5], ticks: [0,5,10,15,20,25], label: null},
  y: {domain: terms, range: [21.3, 680.1], padding: 0.19, round: false, label: null},
  color: {type: "threshold", domain: [10, 20], range: ["#fe9929","#d95f0e","#993404"]},
  marks: [
    Plot.ruleX(gridValues, {stroke: "#b8b8b8", strokeWidth: 3.5}),
    Plot.barX(barRows, {x: "v", y: "term", fill: "v", stroke: "#5f6468", strokeWidth: 2, inset: 0}),
    Plot.frame({stroke: "#000", strokeWidth: 2}),
    Plot.axisX({ticks: [0,5,10,15,20,25], tickSize: 9, tickPadding: 6, fontSize: 25, label: null, stroke: "#000", strokeWidth: 2}),
    Plot.axisY({anchor: "right", tickSize: 0, tickPadding: 10, fontSize: 26.7, label: null, tickFormat: d => d, textOverflow: null, lineWidth: 100}),
    Plot.text(["-log10(P)"], {frameAnchor: "bottom", dy: 53, fontSize: 26.5, lineAnchor: "top", fill: "#000"})
  ]
}), 0, 0);

// ---- bundled network helper ----
function edgeRows(list, nodes, hubs) {
  const rows = [];
  list.forEach(([a, b, h], id) => {
    if (!nodes[a] || !nodes[b]) return;
    rows.push({id, x: nodes[a][0], y: nodes[a][1]});
    if (h >= 0) rows.push({id, x: hubs[h][0], y: hubs[h][1]});
    rows.push({id, x: nodes[b][0], y: nodes[b][1]});
  });
  return rows;
}
function enrichNet({nodes, hubs, strong, faint, loop, xMax, w, h, left, top, field, domain, range}) {
  const marks = [
    Plot.line(edgeRows(faint, nodes, hubs), {x: "x", y: "y", z: "id", curve: "bundle", stroke: "#7f60ad", strokeOpacity: .5, strokeWidth: 2.4}),
    Plot.line(edgeRows(strong, nodes, hubs), {x: "x", y: "y", z: "id", curve: "bundle", stroke: "#54278f", strokeOpacity: .88, strokeWidth: 1.9})
  ];
  if (loop) marks.push(Plot.line(loop, {x: d => d[0], y: d => d[1], curve: "catmull-rom-closed", stroke: "#b9a3d4", strokeWidth: 3.5, fill: "none"}));
  marks.push(Plot.dot(nodes, {x: d => d[0], y: d => d[1], r: d => d[2], fill: d => d[field], stroke: "#13699b", strokeWidth: 1.5}));
  place(Plot.plot({
    width: w, height: h, margin: 0,
    x: {domain: [0, xMax], range: [0, w], axis: null},
    y: {domain: [0, 1568], range: [0, h], axis: null},
    r: {type: "linear", domain: [0, 30], range: [0, 30]},
    color: {type: "ordinal", domain, range},
    marks
  }), left, top);
}
const byTerm = {field: 3, domain: d3.range(20), range: termColors};
const byLevel = {field: 4, domain: d3.range(6), range: pColors};
const mainSet = {nodes: mainNodes, hubs: mainHubs, strong: mainStrong, faint: mainFaint, xMax: 1568, w: 600, h: 720};
const lowSet = {nodes: lowNodes, hubs: lowHubs, strong: lowStrong, faint: lowFaint, loop: loopPath, xMax: 1568, w: 600, h: 720};
const rightSet = {nodes: rightNodes, hubs: rightHubs, strong: rightStrong, faint: rightFaint, xMax: 1200, w: 400, h: 720};
enrichNet({...mainSet, ...byTerm, left: 0, top: 800});
enrichNet({...lowSet, ...byTerm, left: 0, top: 800});
enrichNet({...rightSet, ...byTerm, left: 560, top: 800});
enrichNet({...mainSet, ...byLevel, left: 994, top: 799});
enrichNet({...lowSet, ...byLevel, left: 993, top: 802});
enrichNet({...rightSet, ...byLevel, left: 1558, top: 797.5});

// ---- swatch legend helper ----
function swatchLegend(labels, colors, left, top, swatchW, h, textW, fontSize, gap) {
  const rows = labels.map(l => ({l}));
  place(Plot.plot({
    width: swatchW + textW, height: h, marginLeft: 0, marginTop: 0, marginBottom: 0, marginRight: textW,
    x: {axis: null},
    y: {domain: labels, padding: 0, round: false, axis: null},
    color: {type: "ordinal", domain: labels, range: colors},
    marks: [
      Plot.cell(rows, {y: "l", fill: "l"}),
      Plot.text(rows, {y: "l", text: "l", frameAnchor: "right", textAnchor: "start", dx: gap, fontSize, fontFamily: "Liberation Sans", fill: "#000"})
    ]
  }), left, top);
}
swatchLegend(termShort, termColors, 587, 1147, 25, 365, 320, 10.7, 6);
swatchLegend(mcodeNames, mcodeSwatches, 726, 1837, 44, 365, 120, 19.5, 10);
swatchLegend(mcodeNames, mcodeSwatches, 1765, 1840, 44, 366, 120, 19.5, 10);

// ---- p-value legend ----
const pRows = pLabels.map(l => ({l}));
place(Plot.plot({
  width: 177, height: 339, marginLeft: 0, marginTop: 0, marginBottom: 0, marginRight: 115,
  x: {axis: null},
  y: {domain: pLabels, padding: 0, round: false, axis: null},
  color: {type: "ordinal", domain: pLabels, range: pColors},
  marks: [
    Plot.cell(pRows, {y: "l", fill: "l"}),
    Plot.text(pRows, {y: "l", text: () => "10", frameAnchor: "right", textAnchor: "start", dx: 8, dy: 4, fontSize: 33, fontFamily: "Liberation Sans", fill: "#000"}),
    Plot.text(pRows, {y: "l", text: "l", frameAnchor: "right", textAnchor: "start", dx: 44, dy: -5, fontSize: 21, fontFamily: "Liberation Sans", fill: "#000"})
  ]
}), 1775, 1153);

// ---- D ----
const dNodes = dCoreNodes.concat(dOuterNodes.map(n => [n[0], n[1], 4.6, 0]));
const dRows = [];
dCoreEdges.forEach(([a, bs]) => bs.forEach(b => { if (a !== b) dRows.push({x1: dCoreNodes[a][0], y1: dCoreNodes[a][1], x2: dCoreNodes[b][0], y2: dCoreNodes[b][1]}); }));
dOuterNodes.forEach(n => n.slice(2).forEach(b => { if (dCoreNodes[b]) dRows.push({x1: n[0], y1: n[1], x2: dCoreNodes[b][0], y2: dCoreNodes[b][1]}); }));
dOuterLinks.forEach(([x1, y1, x2, y2]) => dRows.push({x1, y1, x2, y2}));
const mcodeDomain = d3.range(0, 12);
const mcodeRange = [otherColor].concat(mcodeColors);
place(Plot.plot({
  width: 760, height: 650, margin: 0,
  x: {domain: [0, 1568], range: [0, 760], axis: null},
  y: {domain: [0, 1568], range: [0, 650], axis: null},
  r: {type: "linear", domain: [0, 30], range: [0, 30]},
  color: {type: "ordinal", domain: mcodeDomain, range: mcodeRange},
  marks: [
    Plot.link(dRows, {x1: "x1", y1: "y1", x2: "x2", y2: "y2", stroke: "#6a3d9a", strokeOpacity: .55, strokeWidth: 1.2}),
    Plot.dot(dNodes.slice().reverse(), {x: d => d[0], y: d => d[1], r: d => d[2], fill: d => d[3], stroke: "#13699b", strokeWidth: 1.4})
  ]
}), 0, 1600);

// ---- E ----
function moduleNet(nodes, edges, w, h, xMax, yMax, left, top, fontSize, labelGap) {
  const index = new Map(nodes.map(n => [n[0], n]));
  const rows = edges.map(e => { const [a, b] = e.split("-"); return {a: index.get(a), b: index.get(b)}; }).filter(r => r.a && r.b);
  const kx = xMax / w;
  place(Plot.plot({
    width: w, height: h, margin: 0,
    x: {domain: [0, xMax], range: [0, w], axis: null},
    y: {domain: [0, yMax], range: [0, h], axis: null},
    r: {type: "linear", domain: [0, 30], range: [0, 30]},
    color: {type: "ordinal", domain: mcodeDomain, range: mcodeRange},
    marks: [
      Plot.link(rows, {x1: d => d.a[1], y1: d => d.a[2], x2: d => d.b[1], y2: d => d.b[2], stroke: "#8060ad", strokeOpacity: .8, strokeWidth: 1.3}),
      Plot.dot(nodes, {x: d => d[1], y: d => d[2], r: d => d[3], fill: d => d[4], stroke: "#13699b", strokeWidth: 1.4}),
      Plot.text(nodes, {x: d => d[1] + (d[3] + labelGap) * kx, y: d => d[2], text: d => d[0], textAnchor: "start", fontSize, fontFamily: "Liberation Sans", fill: "#111"})
    ]
  }), left, top);
}
moduleNet(eNodes, eEdges, 600, 630, 1568, 1568, 1030, 1620, 10, .8);
moduleNet(e3Nodes.map(n => [n[0], n[1], n[2], 9, 3]), e3Edges, 200, 180, 600, 540, 1600, 1610, 10.5, .5);

// ---- panel letters ----
const letters = ["A","B","C","D","E"];
const letterLeft = [10, 9, 1030, 8, 1032];
const letterBase = [42, 839, 840, 1656, 1656];
letters.forEach((t, i) => {
  const el = document.createElement("div");
  el.className = "letter";
  el.textContent = t;
  el.style.left = letterLeft[i] + "px";
  el.style.top = (letterBase[i] - 41) + "px";
  page.appendChild(el);
});
</script></body></html>
